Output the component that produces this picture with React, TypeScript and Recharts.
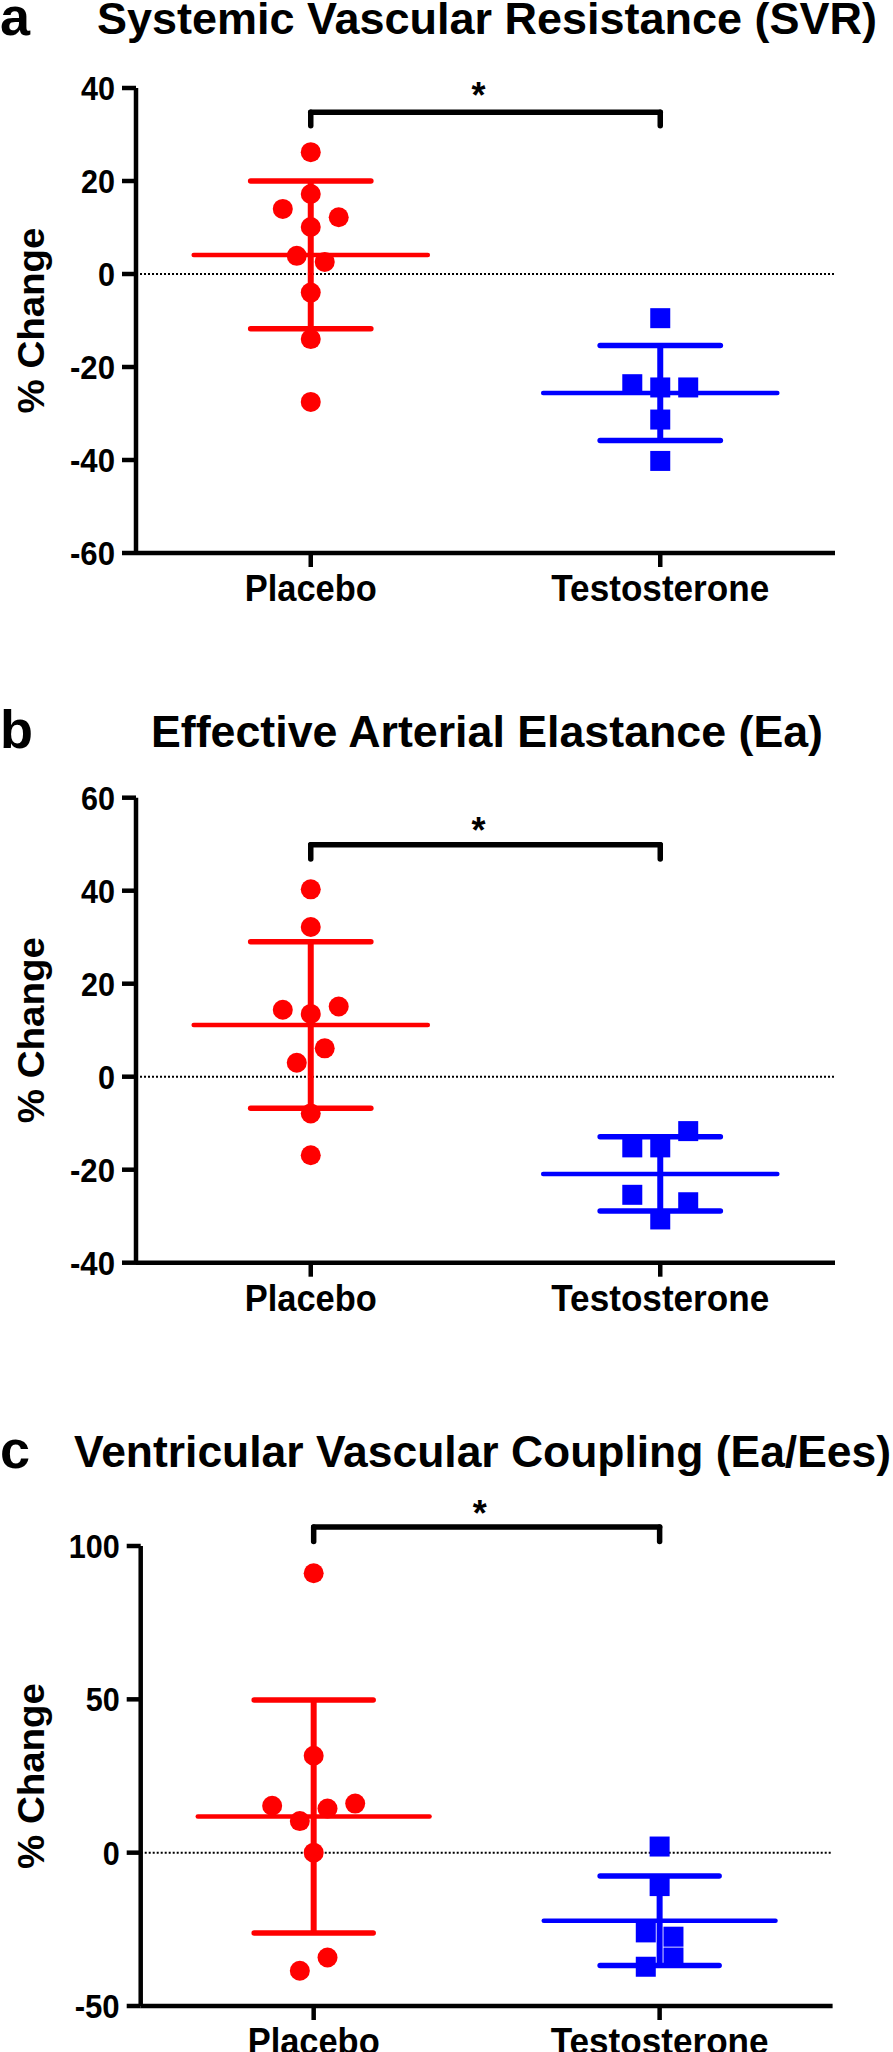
import React from 'react';
import { ScatterChart, Scatter, XAxis, YAxis, ReferenceLine, ReferenceDot } from 'recharts';

const groups = ['Placebo', 'Testosterone'];

// a: Systemic Vascular Resistance, % change
const svrPlacebo = [26.2, 17.2, 14.0, 12.2, 10.1, 3.9, 2.6, -4.0, -14.0, -27.5];
const svrPlaceboSpread = [0, 0, -0.08, 0.08, 0, -0.04, 0.04, 0, 0, 0];
const svrTesto = [-9.5, -23.7, -24.4, -24.4, -31.3, -40.2];
const svrTestoSpread = [0, -0.08, 0, 0.08, 0, 0];
const svrMean = [4.1, -25.6];
const svrSd = [15.9, 10.2];
const svrTicks = [-60, -40, -20, 0, 20, 40];

// b: Effective Arterial Elastance
const eaPlacebo = [40.3, 32.2, 14.4, 15.1, 13.5, 6.1, 3.0, -7.9, -16.9];
const eaPlaceboSpread = [0, 0, -0.08, 0.08, 0, 0.04, -0.04, 0, 0];
const eaTesto = [-11.7, -15.2, -15.2, -25.4, -27.0, -30.7];
const eaTestoSpread = [0.08, -0.08, 0, -0.08, 0.08, 0];
const eaMean = [11.1, -20.9];
const eaSd = [17.9, 8.0];
const eaTicks = [-40, -20, 0, 20, 40, 60];

// c: Ventricular Vascular Coupling
const vvcPlacebo = [91.1, 31.6, 15.3, 16.0, 14.4, 10.3, 0, -34.2, -38.5];
const vvcPlaceboSpread = [0, 0, -0.12, 0.12, 0.04, -0.04, 0, 0.04, -0.04];
const vvcTesto = [2.0, -10.9, -26.0, -27.4, -34.2, -37.2];
const vvcTestoSpread = [0, 0, -0.04, 0.04, 0.04, -0.04];
const vvcMean = [11.8, -22.2];
const vvcSd = [38.0, 14.6];
const vvcTicks = [-50, 0, 50, 100];

const FONT = '"Liberation Sans", Arial, Helvetica, sans-serif';
const RED = '#FF0000';
const BLUE = '#0000FF';
const MEAN_HALF = 0.335;
const CAP_HALF = 0.172;

const toPoints = (vals: number[], spread: number[], group: number) =>
  vals.map((v, i) => ({ x: group + spread[i], y: v }));

const XTick = (props: any) => {
  const { x, y, payload } = props;
  const name = groups[payload.value];
  return (
    <text x={x} y={y + 34} textAnchor="middle" fontFamily={FONT} fontWeight="bold" fontSize={37}
      textLength={name === 'Placebo' ? 132 : 218} lengthAdjust="spacingAndGlyphs" fill="#000">
      {name}
    </text>
  );
};

const YTick = (props: any) => {
  const { x, y, payload } = props;
  const s = String(payload.value);
  const w = s.replace('-', '').length * 17 + (s.startsWith('-') ? 11 : 0);
  return (
    <text x={x} y={y + 12} textAnchor="end" fontFamily={FONT} fontWeight="bold" fontSize={34}
      textLength={w} lengthAdjust="spacingAndGlyphs" fill="#000">
      {s}
    </text>
  );
};

const Circle = (p: any) => <circle cx={p.cx} cy={p.cy} r={10} fill={RED} />;
const Square = (p: any) => <rect x={p.cx - 10} y={p.cy - 10} width={20} height={20} fill={BLUE} />;

interface PanelProps {
  top: number;
  height: number;
  plotLeft: number;
  plotRight: number;
  plotTop: number;
  plotBottom: number;
  ticks: number[];
  placebo: number[];
  placeboSpread: number[];
  testo: number[];
  testoSpread: number[];
  mean: number[];
  sd: number[];
  bracket: [number, number];
  star: number;
}

const Panel: React.FC<PanelProps> = ({
  top, height, plotLeft, plotRight, plotTop, plotBottom, ticks,
  placebo, placeboSpread, testo, testoSpread, mean, sd, bracket, star,
}) => {
  const xAxisH = 40;
  const margin = { top: plotTop - top, right: 893 - plotRight, left: 0, bottom: top + height - plotBottom - xAxisH };
  const midY = (plotTop + plotBottom) / 2 - top;
  const bars = [0, 1].flatMap((g) => {
    const c = g === 0 ? RED : BLUE;
    const m = mean[g];
    const s = sd[g];
    return [
      <ReferenceLine key={`m${g}`} segment={[{ x: g - MEAN_HALF, y: m }, { x: g + MEAN_HALF, y: m }]} stroke={c} strokeWidth={4.5} strokeLinecap="round" ifOverflow="visible" />,
      <ReferenceLine key={`v${g}`} segment={[{ x: g, y: m - s }, { x: g, y: m + s }]} stroke={c} strokeWidth={6} ifOverflow="visible" />,
      <ReferenceLine key={`u${g}`} segment={[{ x: g - CAP_HALF, y: m + s }, { x: g + CAP_HALF, y: m + s }]} stroke={c} strokeWidth={5.5} strokeLinecap="round" ifOverflow="visible" />,
      <ReferenceLine key={`l${g}`} segment={[{ x: g - CAP_HALF, y: m - s }, { x: g + CAP_HALF, y: m - s }]} stroke={c} strokeWidth={5.5} strokeLinecap="round" ifOverflow="visible" />,
    ];
  });
  return (
    <div style={{ position: 'absolute', left: 0, top }}>
      <ScatterChart width={893} height={height} margin={margin}>
        <XAxis type="number" dataKey="x" domain={[-0.5, 1.5]} ticks={[0, 1]} interval={0}
          axisLine={{ stroke: '#000', strokeWidth: 4.5 }} tickLine={{ stroke: '#000', strokeWidth: 4.5 }}
          tickSize={14} tickMargin={0} height={xAxisH} tick={<XTick />} />
        <YAxis type="number" dataKey="y" domain={[ticks[0], ticks[ticks.length - 1]]} ticks={ticks} interval={0}
          width={plotLeft} axisLine={{ stroke: '#000', strokeWidth: 4.5 }} tickLine={{ stroke: '#000', strokeWidth: 4.5 }}
          tickSize={14} tickMargin={7} tick={<YTick />}
          label={() => (
            <text x={44} y={midY} transform={`rotate(-90, 44, ${midY})`} textAnchor="middle" fontFamily={FONT}
              fontWeight="bold" fontSize={37} textLength={186} lengthAdjust="spacingAndGlyphs" fill="#000">
              % Change
            </text>
          )} />
        <ReferenceLine y={0} stroke="#000" strokeWidth={2} strokeDasharray="2 2" />
        {bars}
        <ReferenceLine segment={[{ x: 0, y: bracket[1] }, { x: 0, y: bracket[0] }]} stroke="#000" strokeWidth={5.5} strokeLinecap="round" ifOverflow="visible" />
        <ReferenceLine segment={[{ x: 0, y: bracket[0] }, { x: 1, y: bracket[0] }]} stroke="#000" strokeWidth={5.5} strokeLinecap="round" ifOverflow="visible" />
        <ReferenceLine segment={[{ x: 1, y: bracket[0] }, { x: 1, y: bracket[1] }]} stroke="#000" strokeWidth={5.5} strokeLinecap="round" ifOverflow="visible" />
        <ReferenceDot x={0.48} y={star} r={0} ifOverflow="visible"
          shape={(p: any) => (
            <text x={p.cx} y={p.cy + 20} textAnchor="middle" fontFamily={FONT} fontWeight="bold" fontSize={36} fill="#000">*</text>
          )} />
        <Scatter data={toPoints(placebo, placeboSpread, 0)} shape={Circle} isAnimationActive={false} />
        <Scatter data={toPoints(testo, testoSpread, 1)} shape={Square} isAnimationActive={false} />
      </ScatterChart>
    </div>
  );
};

const Title = ({ letter, text, x, w, y }: { letter: string; text: string; x: number; w: number; y: number }) => (
  <g fontFamily={FONT} fontWeight="bold" fill="#000">
    <text x={0} y={y + 1} fontSize={54}>{letter}</text>
    <text x={x} y={y} fontSize={44} textLength={w} lengthAdjust="spacingAndGlyphs">{text}</text>
  </g>
);

export default function App() {
  return (
    <div style={{ position: 'relative', width: 893, height: 2052, background: '#fff', overflow: 'hidden' }}>
      <style>{'body{margin:0}'}</style>
      <Panel top={0} height={620} plotLeft={136} plotRight={835} plotTop={88} plotBottom={553} ticks={svrTicks}
        placebo={svrPlacebo} placeboSpread={svrPlaceboSpread} testo={svrTesto} testoSpread={svrTestoSpread}
        mean={svrMean} sd={svrSd} bracket={[34.8, 31.9]} star={40} />
      <Panel top={680} height={660} plotLeft={136} plotRight={835} plotTop={797.7} plotBottom={1262.7} ticks={eaTicks}
        placebo={eaPlacebo} placeboSpread={eaPlaceboSpread} testo={eaTesto} testoSpread={eaTestoSpread}
        mean={eaMean} sd={eaSd} bracket={[49.9, 46.8]} star={54.6} />
      <Panel top={1400} height={652} plotLeft={140.7} plotRight={832.6} plotTop={1546} plotBottom={2006} ticks={vvcTicks}
        placebo={vvcPlacebo} placeboSpread={vvcPlaceboSpread} testo={vvcTesto} testoSpread={vvcTestoSpread}
        mean={vvcMean} sd={vvcSd} bracket={[106.2, 101.5]} star={113} />
      <svg width={893} height={2052} style={{ position: 'absolute', left: 0, top: 0, pointerEvents: 'none' }}>
        <Title letter="a" text="Systemic Vascular Resistance (SVR)" x={97} w={780} y={34} />
        <Title letter="b" text="Effective Arterial Elastance (Ea)" x={151} w={672} y={747} />
        <Title letter="c" text="Ventricular Vascular Coupling (Ea/Ees)" x={74} w={817} y={1467} />
      </svg>
    </div>
  );
}
